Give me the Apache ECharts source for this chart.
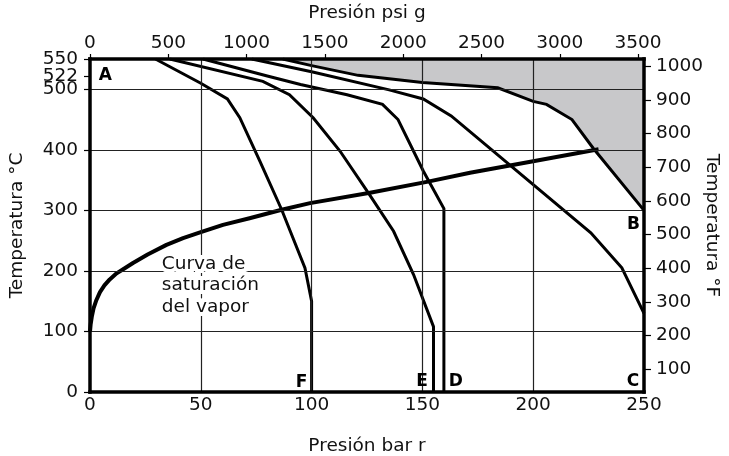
<!DOCTYPE html>
<html>
<head>
<meta charset="utf-8">
<title>Curvas de vapor</title>
<script src="https://cdn.jsdelivr.net/npm/echarts@6/dist/echarts.min.js"></script>
<style>
  html, body { margin: 0; padding: 0; background: #fff; }
  #chart { width: 729px; height: 456px; }
</style>
</head>
<body>
<div id="chart"></div>
<script>
// Ejes
const celsiusTicks = [0, 100, 200, 300, 400, 500, 550];
const celsiusExtraTick = [522];
const fahrenheitTicks = [100, 200, 300, 400, 500, 600, 700, 800, 900, 1000];
const psiTicks = [0, 500, 1000, 1500, 2000, 2500, 3000, 3500];
const barGrid = [50, 100, 150, 200];
const celsiusGrid = [100, 200, 300, 400, 500];

// Curvas [bar r, °C]
const curveF = [[29.5, 550], [50, 510], [62, 484], [67.6, 453], [76.7, 381], [86.5, 301], [97, 205], [100, 150], [100, 0]];
const curveE = [[36, 550], [78, 513], [90, 491], [100.7, 453], [112.8, 398], [125.6, 329], [137, 265.5], [146, 194], [155, 108], [155, 0]];
const curveD = [[51, 550], [80, 522], [95, 508], [116, 491], [132, 475], [139, 450], [150.4, 365], [159.7, 303], [159.7, 0]];
const curveC = [[73, 550], [100, 529], [135, 499], [150.4, 484], [163, 456], [226, 263], [240, 205], [250, 130]];
const curveB = [[87, 550], [100, 539], [121, 523], [150, 511], [184, 502.5], [200, 480], [206, 475], [217.5, 450], [227, 403], [250, 300]];
const saturation = [[0, 100], [0.3, 112], [0.8, 124], [1.6, 138], [2.9, 152], [4.5, 165], [6.5, 176], [8.9, 186], [12, 196], [15.5, 204],
  [19.4, 213], [26, 227], [34.5, 243], [42, 254], [50, 264], [60, 276], [72, 287], [86.5, 301], [99.3, 312], [126.4, 329],
  [152, 347], [171.5, 362], [200, 381], [229.5, 401]];

// Rótulos
const letterMarks = [['A', 6.9, 523], ['B', 245.3, 276], ['C', 245, 17], ['D', 165.1, 17], ['E', 149.9, 17], ['F', 95.5, 16]];
const noteMark = [31.5, 176];
const noteText = 'Curva de\nsaturación\ndel vapor';

const ink = '#111';
const font = "'DejaVu Sans', sans-serif";
const fs = 18.5;

const chart = echarts.init(document.getElementById('chart'), null, { renderer: 'canvas' });

function curve(data, extra) {
  return Object.assign({
    type: 'line',
    data: data,
    symbol: 'none',
    lineStyle: { color: '#000', width: 3, join: 'miter' },
    z: 3,
    animation: false,
    silent: true
  }, extra || {});
}

const plain = v => String(v);
const border = { show: true, onZero: false, lineStyle: { color: '#000', width: 3.5, cap: 'square' } };
const tickStyle = { color: '#000', width: 1.2 };
const nameStyle = { fontSize: fs, color: ink, fontFamily: font };
const labelBase = { fontSize: fs, color: ink, fontFamily: font, formatter: plain, hideOverlap: false, showMinLabel: true, showMaxLabel: true };

chart.setOption({
  animation: false,
  textStyle: { fontFamily: font, color: ink },
  grid: { left: 90, right: 85, top: 59, bottom: 64, containLabel: false, outerBoundsMode: 'none' },
  xAxis: [
    {
      type: 'value', position: 'bottom', min: 0, max: 250, interval: 50, z: 10,
      axisLine: border,
      axisTick: { show: false },
      axisLabel: Object.assign({ margin: 4 }, labelBase),
      splitLine: { show: false },
      name: 'Presión bar r', nameLocation: 'middle', nameGap: 45, nameMoveOverlap: false, nameTextStyle: nameStyle
    },
    {
      type: 'value', position: 'top', min: 0, max: 3538, z: 10,
      axisLine: border,
      axisTick: { show: true, length: 5, customValues: psiTicks, lineStyle: tickStyle },
      axisLabel: Object.assign({ margin: 6, customValues: psiTicks }, labelBase),
      splitLine: { show: false },
      name: 'Presión psi g', nameLocation: 'middle', nameGap: 36, nameMoveOverlap: false, nameTextStyle: nameStyle
    }
  ],
  yAxis: [
    {
      type: 'value', position: 'left', min: 0, max: 550, z: 10,
      axisLine: border,
      axisTick: { show: true, length: 6, customValues: celsiusTicks, lineStyle: tickStyle },
      axisLabel: Object.assign({ margin: 12, customValues: celsiusTicks }, labelBase),
      splitLine: { show: false },
      name: 'Temperatura °C', nameLocation: 'middle', nameGap: 63, nameMoveOverlap: false, nameTextStyle: nameStyle
    },
    {
      type: 'value', position: 'right', min: 32, max: 1022, z: 10,
      axisLine: border,
      axisTick: { show: true, length: 7, customValues: fahrenheitTicks, lineStyle: tickStyle },
      axisLabel: Object.assign({ margin: 12, customValues: fahrenheitTicks }, labelBase),
      splitLine: { show: false },
      name: 'Temperatura °F', nameLocation: 'middle', nameGap: 58, nameRotate: -90, nameMoveOverlap: false, nameTextStyle: nameStyle
    },
    {
      type: 'value', position: 'left', min: 0, max: 550, z: 10,
      axisLine: { show: false, onZero: false },
      axisTick: { show: true, length: 6, customValues: celsiusExtraTick, lineStyle: tickStyle },
      axisLabel: Object.assign({ margin: 12, customValues: celsiusExtraTick }, labelBase),
      splitLine: { show: false }
    }
  ],
  series: [
    {
      type: 'line',
      data: [],
      silent: true,
      z: 1,
      markLine: {
        silent: true,
        symbol: 'none',
        animation: false,
        label: { show: false },
        lineStyle: { color: '#222', width: 1.2, type: 'solid' },
        emphasis: { disabled: true },
        data: barGrid.map(v => ({ xAxis: v })).concat(celsiusGrid.map(v => ({ yAxis: v })))
      }
    },
    curve(curveB, {
      z: 2,
      areaStyle: { color: '#c8c8ca', opacity: 1, origin: 'end' }
    }),
    curve(curveC),
    curve(curveD),
    curve(curveE),
    curve(curveF),
    curve(saturation, { lineStyle: { color: '#000', width: 4, join: 'round' }, z: 4 }),
    {
      type: 'scatter',
      symbolSize: 0,
      silent: true,
      z: 6,
      itemStyle: { opacity: 1 },
      data: letterMarks.map(m => ({ name: m[0], value: [m[1], m[2]] })),
      label: {
        show: true, position: 'inside', formatter: '{b}', opacity: 1,
        fontSize: 17, fontWeight: 'bold', color: '#000', fontFamily: font
      }
    },
    {
      type: 'scatter',
      symbolSize: 0,
      silent: true,
      z: 6,
      itemStyle: { opacity: 1 },
      data: [{ name: noteText, value: noteMark }],
      label: {
        show: true, position: 'right', distance: 2, formatter: '{b}', opacity: 1,
        fontSize: fs, lineHeight: 21.5, color: ink, fontFamily: font,
        textBorderColor: '#fff', textBorderWidth: 8
      }
    }
  ]
});

window.addEventListener('resize', () => chart.resize());
</script>
</body>
</html>
